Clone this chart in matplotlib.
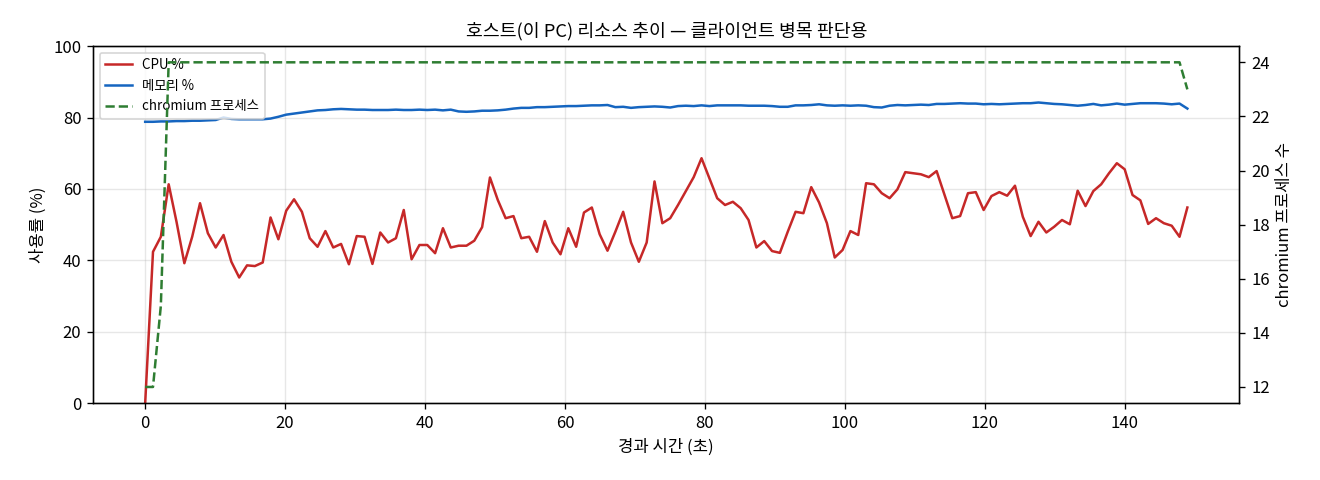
import numpy as np
import matplotlib
matplotlib.use("Agg")
import matplotlib.pyplot as plt

plt.rcParams['font.family'] = ['Noto Sans CJK KR', 'DejaVu Sans']
plt.rcParams['axes.unicode_minus'] = False

# 샘플 간격 (초)
interval = 1.12

cpu = [0.0, 42.4, 46.6, 61.3, 50.8, 39.2, 46.6, 56.0, 47.6, 43.6,
       47.1, 39.6, 35.2, 38.6, 38.4, 39.4, 52.0, 45.9, 53.9, 57.1,
       53.6, 46.2, 43.8, 48.2, 43.6, 44.6, 38.9, 46.8, 46.6, 39.0,
       47.8, 45.0, 46.2, 54.1, 40.3, 44.3, 44.3, 42.0, 49.0, 43.6,
       44.1, 44.1, 45.5, 49.3, 63.2, 56.9, 51.8, 52.4, 46.2, 46.6,
       42.4, 51.0, 45.0, 41.7, 49.0, 43.8, 53.4, 54.8, 47.3, 42.7,
       48.0, 53.6, 45.0, 39.6, 45.0, 62.1, 50.4, 51.8, 55.5, 59.4,
       63.3, 68.6, 63.0, 57.4, 55.5, 56.4, 54.6, 51.3, 43.6, 45.4,
       42.6, 42.1, 48.0, 53.6, 53.2, 60.5, 56.2, 50.4, 40.8, 42.9,
       48.2, 47.1, 61.6, 61.3, 58.8, 57.4, 59.9, 64.7, 64.4, 64.1,
       63.3, 65.0, 58.4, 51.8, 52.4, 58.8, 59.1, 54.1, 58.0, 59.1,
       58.1, 60.9, 52.2, 46.8, 50.8, 47.8, 49.4, 51.3, 50.1, 59.5,
       55.2, 59.4, 61.3, 64.4, 67.2, 65.5, 58.3, 56.8, 50.2, 51.8,
       50.4, 49.7, 46.6, 54.8]

mem = [78.8, 78.8, 78.9, 78.9, 79.0, 79.0, 79.1, 79.1, 79.2, 79.3,
       80.0, 79.6, 79.5, 79.5, 79.5, 79.5, 79.7, 80.2, 80.8, 81.1,
       81.4, 81.7, 82.0, 82.1, 82.3, 82.4, 82.3, 82.2, 82.2, 82.1,
       82.1, 82.1, 82.2, 82.1, 82.1, 82.2, 82.1, 82.2, 82.0, 82.2,
       81.7, 81.6, 81.7, 81.9, 81.9, 82.0, 82.2, 82.5, 82.7, 82.7,
       82.9, 82.9, 83.0, 83.1, 83.2, 83.2, 83.3, 83.4, 83.4, 83.5,
       82.9, 83.0, 82.7, 82.9, 83.0, 83.1, 83.0, 82.8, 83.2, 83.3,
       83.2, 83.4, 83.2, 83.4, 83.4, 83.4, 83.4, 83.3, 83.3, 83.3,
       83.2, 83.0, 83.0, 83.4, 83.4, 83.5, 83.7, 83.4, 83.3, 83.4,
       83.3, 83.4, 83.3, 82.9, 82.8, 83.3, 83.5, 83.4, 83.5, 83.6,
       83.5, 83.8, 83.8, 83.9, 84.0, 83.9, 83.9, 83.7, 83.8, 83.7,
       83.8, 83.9, 84.0, 84.0, 84.2, 84.0, 83.8, 83.7, 83.5, 83.3,
       83.5, 83.8, 83.4, 83.6, 83.9, 83.6, 83.8, 84.0, 84.0, 84.0,
       83.9, 83.7, 83.9, 82.5]

chromium = [12, 12, 15] + [24] * 130 + [23]

t = np.arange(len(cpu)) * interval

fig, ax1 = plt.subplots(figsize=(11, 4), dpi=120)
fig.subplots_adjust(left=0.0705, right=0.939, top=0.904, bottom=0.16)

l1, = ax1.plot(t, cpu, color='#c62828', lw=1.5, label='CPU %')
l2, = ax1.plot(t, mem, color='#1565c0', lw=1.5, label='메모리 %')
ax1.set_ylim(0, 100)
ax1.set_xlabel('경과 시간 (초)', fontsize=10)
ax1.set_ylabel('사용률 (%)', fontsize=10)
ax1.grid(True, alpha=0.3)

ax2 = ax1.twinx()
l3, = ax2.plot(t, chromium, color='#2e7d32', lw=1.5, ls='--', label='chromium 프로세스')
ax2.set_ylabel('chromium 프로세스 수', fontsize=10)

ax1.legend(handles=[l1, l2, l3], loc='upper left', fontsize=8)
ax1.set_title('호스트(이 PC) 리소스 추이 — 클라이언트 병목 판단용', fontsize=11)

plt.savefig('out.png')
